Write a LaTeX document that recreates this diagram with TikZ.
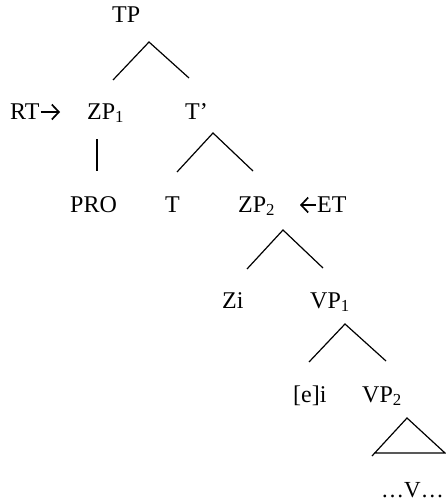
\documentclass[tikz,border=0pt]{standalone}
\usepackage{fontspec}
\setmainfont{Liberation Serif}
\usetikzlibrary{arrows.meta}
\begin{document}
\begin{tikzpicture}[x=1pt,y=-1pt,
  lbl/.style={anchor=base west, inner sep=0pt, font=\fontsize{24}{28}\selectfont},
  br/.style={line width=1.2pt},
  pointer/.style={line width=1.7pt, -{Straight Barb[length=7pt,width=15pt,line width=1.7pt]}}]
\useasboundingbox (0,0) rectangle (445,503);
% labels
\node[lbl] (tp) at (112,23) {TP};
\node[lbl] (rt) at (10,119) {RT};
\node[lbl] (zp1) at (87,119) {ZP\textsubscript{1}};
\node[lbl] (tbar) at (185,119) {T’};
\node[lbl] (pro) at (70,212) {PRO};
\node[lbl] (t) at (165,212) {T};
\node[lbl] (zp2) at (238,212) {ZP\textsubscript{2}};
\node[lbl] (et) at (317,212) {ET};
\node[lbl] (zi) at (222,308) {Zi};
\node[lbl] (vp1) at (310,308) {VP\textsubscript{1}};
\node[lbl] (ei) at (293,402) {[e]i};
\node[lbl] (vp2) at (362,402) {VP\textsubscript{2}};
\node[lbl, font=\fontsize{23}{27}\selectfont] (v) at (381,497) {…V…};
% pointer arrows
\coordinate (rtend) at (60,112);
\coordinate (etend) at (300,205);
\draw[pointer] (rt.east |- rtend) ++(1,0) -- (rtend);
\draw[pointer] (et.west |- etend) ++(-1,0) -- (etend);
% branch points
\coordinate (a1) at (149,42); \coordinate (l1) at (113,80); \coordinate (r1) at (189,78);
\coordinate (a2) at (213,133); \coordinate (l2) at (177,172); \coordinate (r2) at (253,171);
\coordinate (u1) at (97,139); \coordinate (u2) at (97,171);
\coordinate (a3) at (283,230); \coordinate (l3) at (247,269); \coordinate (r3) at (323,268);
\coordinate (a4) at (345,324); \coordinate (l4) at (309,362); \coordinate (r4) at (386,361);
\coordinate (a5) at (407,418); \coordinate (l5) at (372,456); \coordinate (r5) at (445,453);
\coordinate (b5) at (374,453);
% branches
\draw[br] (l1) -- (a1) -- (r1);
\draw[br] (l2) -- (a2) -- (r2);
\draw[br] (u1) -- (u2);
\draw[br] (l3) -- (a3) -- (r3);
\draw[br] (l4) -- (a4) -- (r4);
\draw[br] (l5) -- (a5) -- (r5) -- (b5);
\end{tikzpicture}
\end{document}
